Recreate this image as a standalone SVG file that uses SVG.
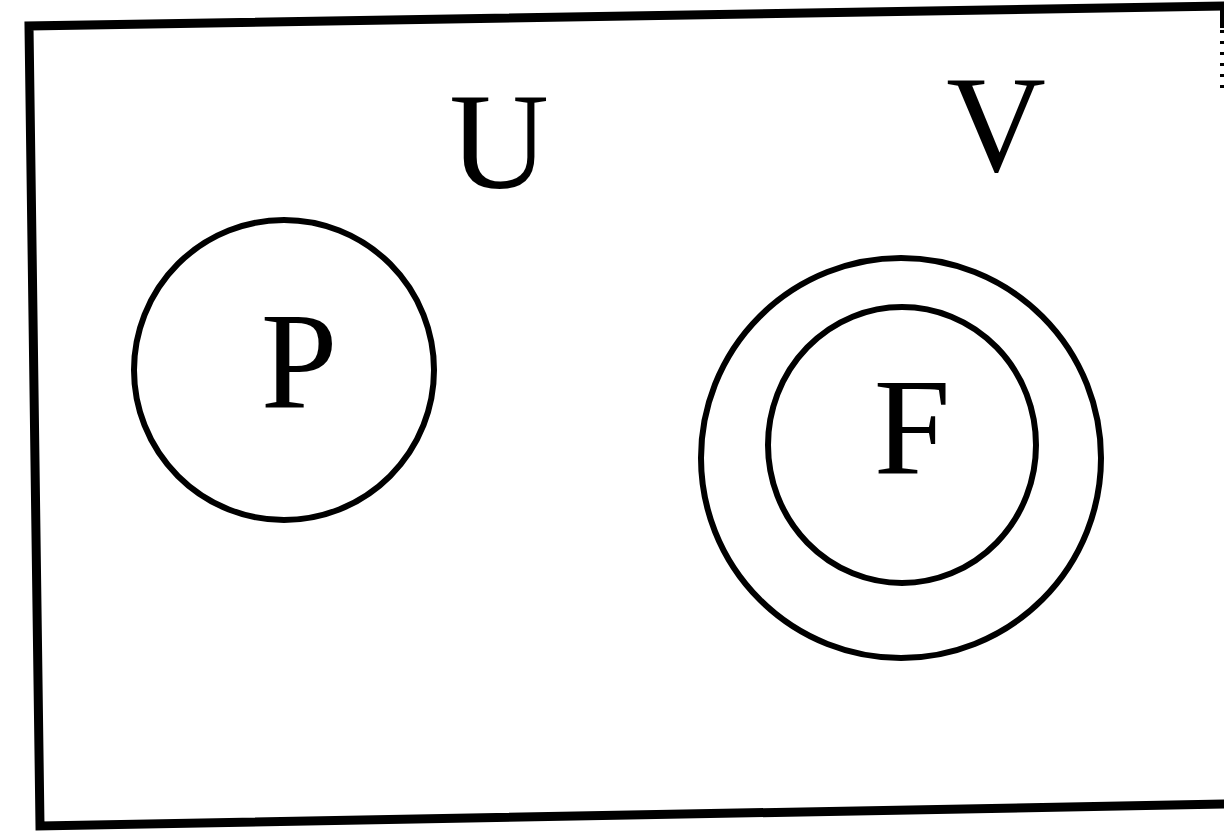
<svg xmlns="http://www.w3.org/2000/svg" width="1224" height="834" viewBox="0 0 1224 834">
<style>
.frame{fill:none;stroke:#000;stroke-width:9;stroke-linejoin:miter}
.edge{fill:none;stroke:#000;stroke-width:4}
.dots{fill:none;stroke:#000;stroke-width:4;stroke-dasharray:3 8}
.c{fill:none;stroke:#000;stroke-width:6}
.t{font-family:'Liberation Serif','Times New Roman',serif;font-size:138px;fill:#000;text-anchor:middle}
</style>
<rect width="1224" height="834" fill="#fff"/>
<g id="frame">
<polyline class="frame" points="1226,6 29,26 40,826 1230,804"/>
<line class="edge" x1="1222" y1="6" x2="1222" y2="28"/>
<line class="dots" x1="1222" y1="30" x2="1222" y2="88"/>
</g>
<g id="labels">
<text class="t" x="499" y="188">U</text>
<text class="t" x="996" y="171">V</text>
</g>
<g id="P">
<circle class="c" cx="284" cy="370" r="150"/>
<text class="t" x="299" y="407">P</text>
</g>
<g id="V-set">
<ellipse class="c" cx="901" cy="458" rx="200" ry="200"/>
</g>
<g id="F">
<ellipse class="c" cx="902" cy="445" rx="134" ry="138"/>
<text class="t" x="912" y="474">F</text>
</g>
<g id="connectors"/>
</svg>
